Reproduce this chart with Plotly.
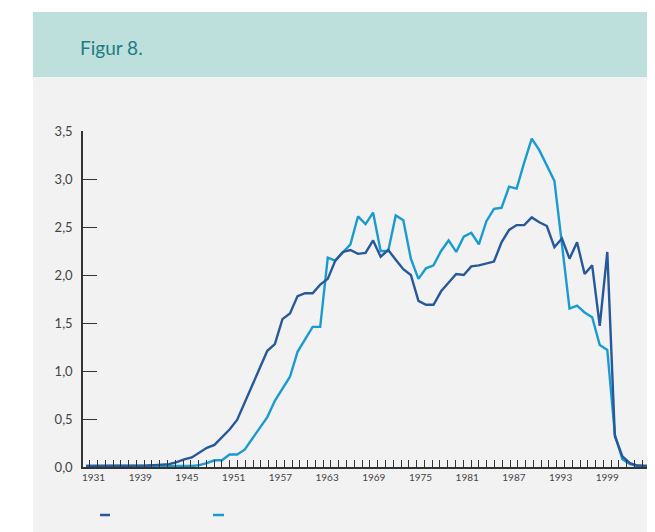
import numpy as np
import plotly.graph_objects as go

# yearly values, 1930-2006
years = list(range(1930, 2007))

dark_values = [
    0.01, 0.01, 0.01, 0.01, 0.01, 0.01, 0.01, 0.01, 0.015, 0.02,   # 1930-39
    0.025, 0.03, 0.05, 0.08, 0.10, 0.15, 0.20, 0.23, 0.31, 0.39,   # 1940-49
    0.49, 0.67, 0.84, 1.02, 1.21, 1.28, 1.54, 1.60, 1.78, 1.81,    # 1950-59
    1.81, 1.90, 1.96, 2.15, 2.24, 2.26, 2.22, 2.23, 2.36, 2.19,    # 1960-69
    2.26, 2.16, 2.06, 2.00, 1.73, 1.69, 1.69, 1.83, 1.92, 2.01,    # 1970-79
    2.00, 2.09, 2.10, 2.12, 2.14, 2.34, 2.47, 2.52, 2.52, 2.60,    # 1980-89
    2.55, 2.51, 2.29, 2.38, 2.17, 2.34, 2.01, 2.10, 1.47, 2.24,    # 1990-99
    0.32, 0.11, 0.04, 0.015, 0.01, 0.01, 0.01,                     # 2000-06
]

light_values = [
    0.01, 0.01, 0.01, 0.01, 0.01, 0.01, 0.01, 0.01, 0.01, 0.01,    # 1930-39
    0.01, 0.01, 0.01, 0.01, 0.01, 0.02, 0.04, 0.07, 0.07, 0.13,    # 1940-49
    0.13, 0.18, 0.29, 0.41, 0.52, 0.69, 0.81, 0.94, 1.20, 1.33,    # 1950-59
    1.46, 1.46, 2.18, 2.15, 2.24, 2.32, 2.61, 2.53, 2.65, 2.25,    # 1960-69
    2.25, 2.62, 2.57, 2.17, 1.96, 2.07, 2.10, 2.25, 2.36, 2.24,    # 1970-79
    2.40, 2.44, 2.32, 2.56, 2.69, 2.70, 2.92, 2.90, 3.17, 3.42,    # 1980-89
    3.30, 3.14, 2.98, 2.32, 1.65, 1.68, 1.61, 1.56, 1.27, 1.22,    # 1990-99
    0.34, 0.08, 0.03, 0.01, 0.01, 0.01, 0.01,                      # 2000-06
]

# the original spreads its year labels evenly between 1931 and 1999
tick_labels = ["1931", "1939", "1945", "1951", "1957", "1963", "1969",
               "1975", "1981", "1987", "1993", "1999", "2005"]
y_ticks = [0, 0.5, 1.0, 1.5, 2.0, 2.5, 3.0, 3.5]

DARK = "#27589a"
LIGHT = "#1a9bd0"
AXIS = "#333333"

label_step = (1999 - 1931) / 11
tick_pos = [1931 + i * label_step for i in range(len(tick_labels))]

fig = go.Figure()
fig.add_trace(go.Scatter(x=years, y=light_values, mode="lines",
                         line=dict(color=LIGHT, width=2.4), showlegend=False))
fig.add_trace(go.Scatter(x=years, y=dark_values, mode="lines",
                         line=dict(color=DARK, width=2.4), showlegend=False))

# the page body adds 8px on each side, so lay out in window px minus 8
OFF = 8
W, H = 655 - 2 * OFF, 532 - OFF
L, T, B = 83 - OFF, 131 - OFF, 467 - OFF
pw, ph = W - L, B - T


def px(x):
    return (x - OFF - L) / pw


def py(y):
    return (B - (y - OFF)) / ph


shapes = [
    dict(type="rect", xref="paper", yref="paper", x0=px(33), x1=px(660),
         y0=py(77), y1=py(12), fillcolor="#bde0dc", line_width=0, layer="below"),
    dict(type="rect", xref="paper", yref="paper", x0=px(33), x1=px(660),
         y0=py(540), y1=py(77), fillcolor="#f2f2f2", line_width=0, layer="below"),
    dict(type="line", xref="paper", yref="paper", x0=px(5), x1=px(5),
         y0=py(540), y1=py(0), line=dict(color="#5fb0b8", width=1.5, dash="dot")),
    dict(type="line", xref="paper", yref="paper", x0=px(100), x1=px(110),
         y0=py(515), y1=py(515), line=dict(color=DARK, width=2.5)),
    dict(type="line", xref="paper", yref="paper", x0=px(213), x1=px(224),
         y0=py(515), y1=py(515), line=dict(color=LIGHT, width=2.5)),
]

fig.add_annotation(x=px(78), y=py(47), xref="paper", yref="paper",
                   text="Figur 8.", showarrow=False, xanchor="left", yanchor="middle",
                   font=dict(family="Lato", size=19, color="#1d7c83"))

x0 = 1930 - (86 - 83) / 7.555
fig.update_xaxes(
    range=[x0, x0 + pw / 7.555],
    tickmode="array", tickvals=tick_pos, ticktext=tick_labels,
    ticks="", showgrid=False, zeroline=False,
    showline=True, linecolor=AXIS, linewidth=1.5,
    tickfont=dict(family="Lato", size=10, color="#444444"),
    automargin=False,
    minor=dict(ticks="inside", ticklen=7, tickwidth=1, tickcolor=AXIS,
               tickmode="linear", tick0=1931 - label_step / 12,
               dtick=label_step / 6, showgrid=False),
)
fig.update_yaxes(
    range=[0, 3.5], tickmode="array", tickvals=y_ticks, tickformat=".1f",
    ticks="inside", ticklen=14, tickwidth=1.2, tickcolor=AXIS,
    showgrid=False, zeroline=False, showline=True, linecolor=AXIS, linewidth=1.5,
    tickfont=dict(family="Lato", size=13, color="#444444"),
    ticklabelstandoff=6, automargin=False,
)

fig.update_layout(
    width=W, height=H,
    margin=dict(l=L, r=0, t=T, b=H - B),
    paper_bgcolor="white", plot_bgcolor="rgba(0,0,0,0)",
    separators=", ",
    shapes=shapes,
    showlegend=False,
)

fig.write_html("out.html")
